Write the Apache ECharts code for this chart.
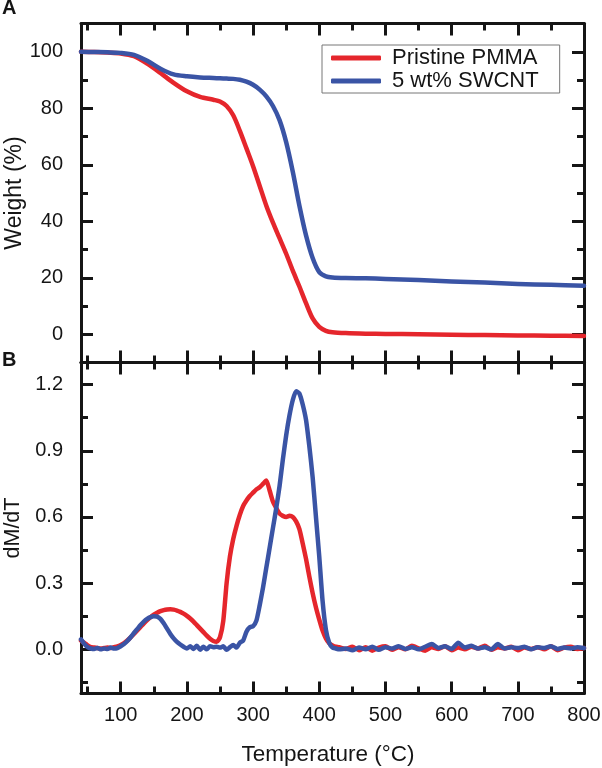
<!DOCTYPE html>
<html>
<head>
<meta charset="utf-8">
<title>TGA / DTG</title>
<script src="https://cdn.jsdelivr.net/npm/echarts@6/dist/echarts.min.js"></script>
<style>
  html, body { margin: 0; padding: 0; background: #fff; }
  #chartDiv { width: 602px; height: 768px; }
</style>
</head>
<body>
<div id="chartDiv"></div>
<script>
  var seriesNames = ['Pristine PMMA', '5 wt% SWCNT'];

  // panel A: weight (%)
  var tempA = [40, 60, 80, 100, 120, 140, 160, 180, 200, 220, 240, 250, 260, 270, 280, 290, 300, 310, 320, 330,
    340, 350, 360, 370, 380, 390, 400, 410, 420, 440, 470, 500, 550, 600, 650, 700, 750, 800];
  var weightPMMA = [100, 99.9, 99.7, 99.4, 98.4, 95.8, 92.5, 89.0, 86.0, 84.0, 83.0, 82.4, 80.8, 77.5, 72.0, 65.8, 59.5, 52.5, 45.5, 39.5,
    34.0, 28.5, 22.5, 16.9, 11.0, 5.6, 2.6, 1.2, 0.7, 0.4, 0.2, 0.1, 0.0, -0.2, -0.3, -0.4, -0.5, -0.6];
  var weightSWCNT = [100, 99.9, 99.8, 99.6, 98.9, 96.8, 94.0, 92.0, 91.3, 90.9, 90.7, 90.6, 90.5, 90.4, 90.1, 89.4, 88.3, 86.6, 84.2, 80.8,
    75.8, 68.0, 57.5, 45.5, 35.0, 27.0, 22.0, 20.5, 20.1, 19.9, 19.8, 19.6, 19.2, 18.7, 18.3, 17.8, 17.5, 17.2];

  // panel B: dM/dT
  var tempB = [40, 45, 50, 55, 60, 65, 70, 75, 80, 85, 90, 95, 100, 105, 110, 115, 120, 125, 130, 135,
    140, 145, 150, 155, 160, 165, 170, 175, 180, 185, 190, 195, 200, 205, 210, 215, 220, 225, 230, 235,
    240, 245, 250, 255, 260, 265, 270, 275, 280, 285, 290, 295, 300, 305, 310, 315, 320, 325, 330, 335,
    340, 345, 350, 355, 360, 365, 370, 375, 380, 385, 390, 395, 400, 405, 410, 415, 420, 425, 430,
    440, 450, 460, 470, 480, 490, 500, 510, 520, 530, 540, 550, 560, 570, 580, 590, 600, 610, 620, 630,
    640, 650, 660, 670, 680, 690, 700, 710, 720, 730, 740, 750, 760, 770, 780, 790, 800];
  var dmPMMA = [0.040, 0.030, 0.018, 0.010, 0.008, 0.006, 0.004, 0.006, 0.008, 0.006, 0.010, 0.014, 0.020, 0.028, 0.040, 0.054, 0.070, 0.086, 0.102, 0.118,
    0.133, 0.146, 0.157, 0.166, 0.173, 0.178, 0.181, 0.182, 0.180, 0.176, 0.170, 0.162, 0.152, 0.140, 0.126, 0.110, 0.094, 0.078, 0.062, 0.048,
    0.038, 0.034, 0.055, 0.130, 0.300, 0.420, 0.500, 0.560, 0.610, 0.650, 0.675, 0.695, 0.710, 0.725, 0.735, 0.750, 0.765, 0.720, 0.670, 0.640,
    0.615, 0.605, 0.600, 0.605, 0.600, 0.580, 0.545, 0.480, 0.410, 0.330, 0.255, 0.190, 0.135, 0.085, 0.050, 0.028, 0.018, 0.012, 0.010,
    0.002, 0.012, -0.004, 0.010, -0.006, 0.008, 0.014, -0.002, 0.010, 0.000, 0.016, 0.004, -0.006, 0.010, 0.002, 0.014, -0.004, 0.008, 0.000, 0.012,
    0.004, 0.016, -0.002, 0.010, 0.004, 0.012, -0.004, 0.008, 0.002, 0.010, 0.000, 0.014, -0.004, 0.008, 0.012, 0.002, 0.006];
  var dmSWCNT = [0.045, 0.025, 0.010, 0.004, 0.002, 0.006, 0.000, 0.004, 0.002, 0.008, 0.004, 0.006, 0.014, 0.024, 0.038, 0.055, 0.074, 0.092, 0.110, 0.126,
    0.138, 0.146, 0.150, 0.148, 0.138, 0.118, 0.094, 0.070, 0.050, 0.034, 0.022, 0.012, 0.004, 0.014, 0.002, 0.016, -0.002, 0.012, 0.000, 0.014,
    0.010, 0.012, 0.008, 0.014, -0.002, 0.010, 0.020, 0.008, 0.030, 0.040, 0.080, 0.100, 0.105, 0.130, 0.200, 0.280, 0.370, 0.460, 0.550, 0.640,
    0.740, 0.860, 0.970, 1.060, 1.130, 1.170, 1.160, 1.110, 1.040, 0.920, 0.780, 0.600, 0.420, 0.220, 0.090, 0.030, 0.008, 0.004, 0.000,
    0.004, -0.004, 0.008, 0.000, 0.012, -0.002, 0.010, 0.004, 0.014, 0.002, 0.010, 0.000, 0.012, 0.024, 0.006, 0.014, 0.002, 0.030, 0.008, 0.016,
    0.004, 0.010, 0.000, 0.024, 0.004, 0.010, 0.006, 0.012, 0.000, 0.010, 0.006, 0.014, 0.002, 0.008, 0.004, 0.010, 0.006];

  var xMajorTicks = [100, 200, 300, 400, 500, 600, 700, 800];
  var xMinorTicks = [50, 150, 250, 350, 450, 550, 650, 750];
  var yMajorA = [0, 20, 40, 60, 80, 100];
  var yMinorA = [10, 30, 50, 70, 90];
  var yMajorB = [0, 0.3, 0.6, 0.9, 1.2];
  var yMinorB = [-0.15, 0.15, 0.45, 0.75, 1.05];

  var FONT = '"Liberation Sans", Arial, Helvetica, sans-serif';
  var INK = '#151515';
  var RED = '#E5262C';
  var BLUE = '#3A54A5';

  function pairs(xs, ys) {
    return xs.map(function(x, i) { return [x, ys[i]]; });
  }

  // one axis of a grid; major grids draw the frame, minor grids only short ticks
  function axis(gridIndex, position, min, max, ticks, major, label, name) {
    var a = {
      type: 'value', gridIndex: gridIndex, position: position,
      min: min, max: max,
      axisLine: { show: major, onZero: false, lineStyle: { color: INK, width: 3 } },
      axisTick: { show: true, inside: true, length: major ? 12 : 7, customValues: ticks,
        lineStyle: { color: INK, width: 3 } },
      axisLabel: { show: false },
      splitLine: { show: false }
    };
    if (label) {
      a.axisLabel = { show: true, customValues: ticks, fontSize: 20, color: INK, fontFamily: FONT,
        margin: label.margin, formatter: label.formatter };
    }
    if (name) {
      a.name = name.text;
      a.nameLocation = 'middle';
      a.nameGap = name.gap;
      a.nameMoveOverlap = false;
      a.nameTextStyle = { fontSize: name.size, color: INK, fontFamily: FONT, padding: name.padding || 0 };
    }
    return a;
  }

  var fmtA = function(v) { return String(Math.round(v)); };
  var fmtB = function(v) { return v.toFixed(1); };

  var gridA = { left: 81, top: 23.5, width: 503, height: 339, outerBoundsMode: 'none', containLabel: false };
  var gridB = { left: 81, top: 362.5, width: 503, height: 331, outerBoundsMode: 'none', containLabel: false };
  var grids = [gridA, Object.assign({}, gridA), gridB, Object.assign({}, gridB)];

  var xAxes = [
    axis(0, 'bottom', 40, 800, xMajorTicks, true),
    axis(0, 'top', 40, 800, xMajorTicks, true),
    axis(1, 'bottom', 40, 800, xMinorTicks, false),
    axis(1, 'top', 40, 800, xMinorTicks, false),
    axis(2, 'bottom', 40, 800, xMajorTicks, true, { margin: 12 },
      { text: 'Temperature (°C)', gap: 50, size: 22.5, padding: [0, 9, 0, 0] }),
    axis(2, 'top', 40, 800, xMajorTicks, true),
    axis(3, 'bottom', 40, 800, xMinorTicks, false),
    axis(3, 'top', 40, 800, xMinorTicks, false)
  ];

  var yAxes = [
    axis(0, 'left', -10, 110, yMajorA, true, { margin: 18, formatter: fmtA },
      { text: 'Weight (%)', gap: 55, size: 23 }),
    axis(0, 'right', -10, 110, yMajorA, true),
    axis(1, 'left', -10, 110, yMinorA, false),
    axis(1, 'right', -10, 110, yMinorA, false),
    axis(2, 'left', -0.2, 1.3, yMajorB, true, { margin: 18, formatter: fmtB },
      { text: 'dM/dT', gap: 57, size: 21.5 }),
    axis(2, 'right', -0.2, 1.3, yMajorB, true),
    axis(3, 'left', -0.2, 1.3, yMinorB, false),
    axis(3, 'right', -0.2, 1.3, yMinorB, false)
  ];

  function line(name, color, axisIndex, data, smooth) {
    return {
      name: name, type: 'line', xAxisIndex: axisIndex, yAxisIndex: axisIndex,
      data: data, symbol: 'none', smooth: smooth, clip: true,
      lineStyle: { color: color, width: 4.5, cap: 'round', join: 'round' },
      itemStyle: { color: color }
    };
  }

  var option = {
    animation: false,
    backgroundColor: '#fff',
    textStyle: { fontFamily: FONT },
    grid: grids,
    xAxis: xAxes,
    yAxis: yAxes,
    legend: {
      data: seriesNames,
      left: 322, top: 45,
      orient: 'vertical',
      icon: 'roundRect',
      itemWidth: 50, itemHeight: 5, itemGap: 1,
      padding: [2, 21, 1, 9],
      borderColor: '#777', borderWidth: 1,
      textStyle: { fontSize: 22, color: INK, fontFamily: FONT, padding: [0, 0, 0, 6] }
    },
    graphic: [
      { type: 'text', left: 2, top: -2, style: { text: 'A', fontSize: 20, fontWeight: 'bold', fill: INK, fontFamily: FONT } },
      { type: 'text', left: 2, top: 350, style: { text: 'B', fontSize: 20, fontWeight: 'bold', fill: INK, fontFamily: FONT } }
    ],
    series: [
      line(seriesNames[0], RED, 0, pairs(tempA, weightPMMA), 0.3),
      line(seriesNames[1], BLUE, 0, pairs(tempA, weightSWCNT), 0.3),
      line(seriesNames[0], RED, 4, pairs(tempB, dmPMMA), 0.2),
      line(seriesNames[1], BLUE, 4, pairs(tempB, dmSWCNT), 0.2)
    ]
  };

  var chart = echarts.init(document.getElementById('chartDiv'));
  chart.setOption(option);
</script>
</body>
</html>
